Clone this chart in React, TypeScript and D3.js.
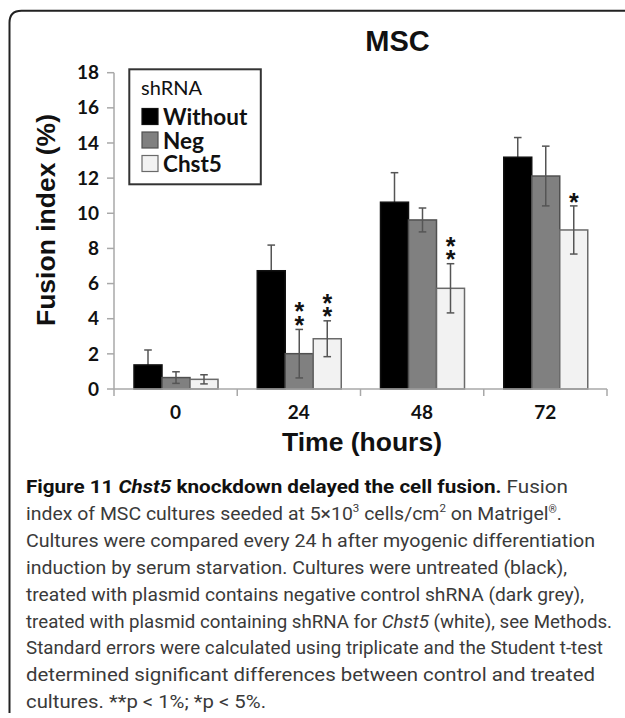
import React from "react";
import * as d3 from "d3";

const categories = ["0", "24", "48", "72"];
const seriesNames = ["Without", "Neg", "Chst5"];
const withoutValues = [1.37, 6.73, 10.63, 13.19];
const withoutErrors = [0.85, 1.46, 1.68, 1.12];
const negValues = [0.65, 2.01, 9.62, 12.12];
const negErrors = [0.33, 1.38, 0.68, 1.7];
const chst5Values = [0.55, 2.86, 5.73, 9.05];
const chst5Errors = [0.26, 1.02, 1.4, 1.37];
const withoutStars = ["", "", "", ""];
const negStars = ["", "**", "", ""];
const chst5Stars = ["", "**", "**", "*"];
const yTicks = [0, 2, 4, 6, 8, 10, 12, 14, 16, 18];

const captionLines = [
  "Figure 11 Chst5 knockdown delayed the cell fusion. Fusion",
  "index of MSC cultures seeded at 5×10³ cells/cm² on Matrigel®.",
  "Cultures were compared every 24 h after myogenic differentiation",
  "induction by serum starvation. Cultures were untreated (black),",
  "treated with plasmid contains negative control shRNA (dark grey),",
  "treated with plasmid containing shRNA for Chst5 (white), see Methods.",
  "Standard errors were calculated using triplicate and the Student t-test",
  "determined significant differences between control and treated",
  "cultures. **p < 1%; *p < 5%.",
];

const fills = ["#000000", "#808080", "#f2f2f2"];
const strokes = ["#111111", "#505050", "#6a6a6a"];

export default function App() {
  const yTop = 72.7;
  const yBottom = 389;
  const xLeft = 114;
  const xRight = 607;
  const y = d3.scaleLinear().domain([0, 18]).range([yBottom, yTop]);
  const x0 = d3.scaleBand<string>().domain(categories).range([xLeft, xRight]).padding(0);
  const inner0 = 20;
  const innerW = 84;
  const x1 = d3.scaleBand<string>().domain(seriesNames).range([inner0, inner0 + innerW]).padding(0);

  const series = [
    { name: "Without", values: withoutValues, errors: withoutErrors, stars: withoutStars },
    { name: "Neg", values: negValues, errors: negErrors, stars: negStars },
    { name: "Chst5", values: chst5Values, errors: chst5Errors, stars: chst5Stars },
  ];

  const axisColor = "#a8a8a8";
  const chartFont = "Lato, 'Open Sans', sans-serif";
  const headFont = "'Liberation Sans', Arial, sans-serif";
  const capFont = "Roboto, 'Open Sans', sans-serif";

  const boundaries = [...categories.map((c) => x0(c) as number), xRight];

  const lineWidths = [542, 536, 569, 541, 558, 586, 577, 569, 240];
  const capX = 26;
  const capY0 = 493;
  const capDy = 26.9;

  const renderCaption = (line: string, i: number) => {
    const common = {
      key: i,
      x: capX,
      y: capY0 + i * capDy,
      fontFamily: capFont,
      fontSize: 18.5,
      fill: "#3a3a3a",
      textLength: lineWidths[i],
      lengthAdjust: "spacingAndGlyphs" as const,
    };
    if (i === 0) {
      return (
        <text {...common}>
          <tspan fontWeight="bold" fill="#111">Figure 11 </tspan>
          <tspan fontWeight="bold" fontStyle="italic" fill="#111">Chst5</tspan>
          <tspan fontWeight="bold" fill="#111"> knockdown delayed the cell fusion.</tspan>
          <tspan> Fusion</tspan>
        </text>
      );
    }
    if (i === 1) {
      return (
        <text {...common}>
          <tspan>index of MSC cultures seeded at 5×10</tspan>
          <tspan fontSize={11} dy={-8}>3</tspan>
          <tspan dy={8}> cells/cm</tspan>
          <tspan fontSize={11} dy={-8}>2</tspan>
          <tspan dy={8}> on Matrigel</tspan>
          <tspan fontSize={10} dy={-7}>®</tspan>
          <tspan dy={7}>.</tspan>
        </text>
      );
    }
    if (i === 5) {
      return (
        <text {...common}>
          <tspan>treated with plasmid containing shRNA for </tspan>
          <tspan fontStyle="italic">Chst5</tspan>
          <tspan> (white), see Methods.</tspan>
        </text>
      );
    }
    return <text {...common}>{line}</text>;
  };

  const errorBar = (cx: number, v: number, e: number) => (
    <g>
      <line x1={cx} x2={cx} y1={y(v + e)} y2={y(v - e)} stroke="#555" strokeWidth={1.5} />
      <line x1={cx - 3.8} x2={cx + 3.8} y1={y(v + e)} y2={y(v + e)} stroke="#555" strokeWidth={1.5} />
      <line x1={cx - 3.8} x2={cx + 3.8} y1={y(v - e)} y2={y(v - e)} stroke="#555" strokeWidth={1.5} />
    </g>
  );

  return (
    <svg
      width={625}
      height={718}
      style={{ position: "absolute", left: 0, top: 0, background: "#fff" }}
    >
      <rect x={0} y={0} width={625} height={718} fill="#fff" />
      {/* frame */}
      <path
        d={`M 9.5 713 L 9.5 ${10.7 + 12} Q 9.5 10.7 ${9.5 + 12} 10.7 L 625 10.7`}
        fill="none"
        stroke="#222"
        strokeWidth={2}
      />

      {/* title */}
      <text x={397.5} y={50.7} textAnchor="middle" fontFamily={headFont} fontWeight="bold" fontSize={29} fill="#111">
        MSC
      </text>

      {/* y axis */}
      <line x1={xLeft} x2={xLeft} y1={yTop} y2={yBottom} stroke={axisColor} strokeWidth={1.5} />
      {yTicks.map((t) => (
        <g key={t}>
          <line x1={xLeft - 7} x2={xLeft} y1={y(t)} y2={y(t)} stroke={axisColor} strokeWidth={1.5} />
          <text
            x={99}
            y={y(t)}
            dy="0.35em"
            textAnchor="end"
            fontFamily={chartFont}
            fontWeight="bold"
            fontSize={19}
            fill="#111"
          >
            {t}
          </text>
        </g>
      ))}

      {/* y label */}
      <text
        transform={`translate(55,220) rotate(-90)`}
        textAnchor="middle"
        fontFamily={headFont}
        fontWeight="bold"
        fontSize={26.5}
        fill="#111"
      >
        Fusion index (%)
      </text>

      {/* bars */}
      {series.map((s, si) =>
        categories.map((c, ci) => {
          const bx = (x0(c) as number) + (x1(s.name) as number);
          const bw = x1.bandwidth();
          const v = s.values[ci];
          const e = s.errors[ci];
          const cx = bx + bw / 2;
          const st = s.stars[ci];
          return (
            <g key={`${si}-${ci}`}>
              {si === 0 && errorBar(cx, v, e)}
              <rect
                x={bx}
                y={y(v)}
                width={bw}
                height={yBottom - y(v)}
                fill={fills[si]}
                stroke={strokes[si]}
                strokeWidth={1.5}
              />
              {si !== 0 && errorBar(cx, v, e)}
              {st.length > 0 && (
                <text
                  x={cx}
                  y={y(v + e) - 4 - st.length * 14}
                  style={{ writingMode: "vertical-rl", textOrientation: "upright" } as any}
                  letterSpacing={-14.75}
                  fontFamily={headFont}
                  fontWeight="bold"
                  fontSize={25}
                  fill="#111"
                >
                  {st}
                </text>
              )}
            </g>
          );
        })
      )}

      {/* x axis */}
      <line x1={xLeft} x2={xRight} y1={yBottom} y2={yBottom} stroke={axisColor} strokeWidth={1.5} />
      {boundaries.map((b, i) => (
        <line key={i} x1={b} x2={b} y1={yBottom} y2={yBottom + 7} stroke={axisColor} strokeWidth={1.5} />
      ))}
      {categories.map((c) => (
        <text
          key={c}
          x={(x0(c) as number) + x0.bandwidth() / 2}
          y={419}
          textAnchor="middle"
          fontFamily={chartFont}
          fontWeight="bold"
          fontSize={19}
          fill="#111"
        >
          {c}
        </text>
      ))}
      <text x={362} y={451} textAnchor="middle" fontFamily={headFont} fontWeight="bold" fontSize={26.5} fill="#111">
        Time (hours)
      </text>

      {/* legend */}
      <rect x={129.3} y={69.3} width={131.5} height={115} fill="#fff" stroke="#333" strokeWidth={2} />
      <text x={141} y={95} fontFamily={chartFont} fontSize={20} fill="#111">
        shRNA
      </text>
      {seriesNames.map((n, i) => (
        <g key={n}>
          <rect
            x={142}
            y={108.5 + i * 23.5}
            width={16}
            height={16}
            fill={fills[i]}
            stroke={strokes[i]}
            strokeWidth={1.2}
          />
          <text x={163} y={125 + i * 23.5} fontFamily={chartFont} fontWeight="bold" fontSize={22.5} fill="#111">
            {n}
          </text>
        </g>
      ))}

      {/* caption */}
      {captionLines.map((l, i) => renderCaption(l, i))}
    </svg>
  );
}
